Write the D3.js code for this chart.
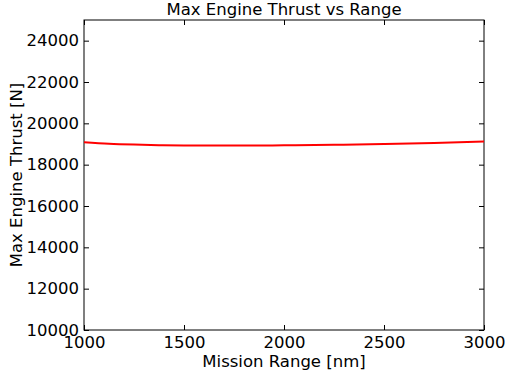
<!DOCTYPE html>
<html>
<head>
<meta charset="utf-8">
<script src="https://cdn.jsdelivr.net/npm/d3@7"></script>
<style>
  body { margin: 0; background: #fff; }
  text { font-family: "DejaVu Sans", sans-serif; }
</style>
</head>
<body>
<div id="container"></div>
<script>
// data
var ranges = [1000, 1125, 1250, 1375, 1500, 1625, 1750, 1875, 2000, 2250, 2500, 2750, 3000];
var thrust = [19080, 19010, 18970, 18945, 18932, 18926, 18926, 18929, 18935, 18960, 18998, 19050, 19115];
var xTicks = [1000, 1500, 2000, 2500, 3000];
var yTicks = [10000, 12000, 14000, 16000, 18000, 20000, 22000, 24000];

var margin = {top: 20, right: 21, bottom: 50, left: 84},
    width = 505 - margin.left - margin.right,
    height = 380 - margin.top - margin.bottom;

var svg = d3.select("#container")
  .append("svg")
    .attr("width", 505)
    .attr("height", 380)
  .append("g")
    .attr("transform", "translate(" + margin.left + "," + margin.top + ")");

var x = d3.scaleLinear().domain([1000, 3000]).range([0, width]);
var y = d3.scaleLinear().domain([10000, 25000]).range([height, 0]);

// axes with inward ticks on all sides
function styleAxis(g) {
  g.select(".domain").remove();
  g.selectAll("line").attr("stroke", "#000");
  g.selectAll("text").attr("font-size", "16.5px").attr("fill", "#000");
}

svg.append("g")
  .attr("transform", "translate(0," + height + ")")
  .call(d3.axisBottom(x).tickValues(xTicks).tickFormat(d3.format("d")).tickSizeInner(-5).tickPadding(4))
  .call(styleAxis)
  .selectAll("text").attr("dy", "0.85em");

svg.append("g")
  .call(d3.axisTop(x).tickValues(xTicks).tickFormat("").tickSizeInner(-5))
  .call(styleAxis);

svg.append("g")
  .call(d3.axisLeft(y).tickValues(yTicks).tickFormat(d3.format("d")).tickSizeInner(-5).tickPadding(5))
  .call(styleAxis);

svg.append("g")
  .attr("transform", "translate(" + width + ",0)")
  .call(d3.axisRight(y).tickValues(yTicks).tickFormat("").tickSizeInner(-5))
  .call(styleAxis);

svg.append("rect")
  .attr("width", width)
  .attr("height", height)
  .attr("fill", "none")
  .attr("stroke", "#000")
  .attr("stroke-width", 1);

// line
var line = d3.line()
  .x(function (d, i) { return x(ranges[i]); })
  .y(function (d) { return y(d); })
  .curve(d3.curveMonotoneX);

svg.append("path")
  .datum(thrust)
  .attr("d", line)
  .attr("fill", "none")
  .attr("stroke", "#ff0000")
  .attr("stroke-width", 2);

// labels
svg.append("text")
  .attr("x", width / 2)
  .attr("y", -5)
  .attr("text-anchor", "middle")
  .attr("font-size", "16.5px")
  .text("Max Engine Thrust vs Range");

svg.append("text")
  .attr("x", width / 2)
  .attr("y", height + 37)
  .attr("text-anchor", "middle")
  .attr("font-size", "16.5px")
  .text("Mission Range [nm]");

svg.append("text")
  .attr("transform", "translate(" + (-62) + "," + (height / 2) + ") rotate(-90)")
  .attr("text-anchor", "middle")
  .attr("font-size", "16.5px")
  .text("Max Engine Thrust [N]");
</script>
</body>
</html>
